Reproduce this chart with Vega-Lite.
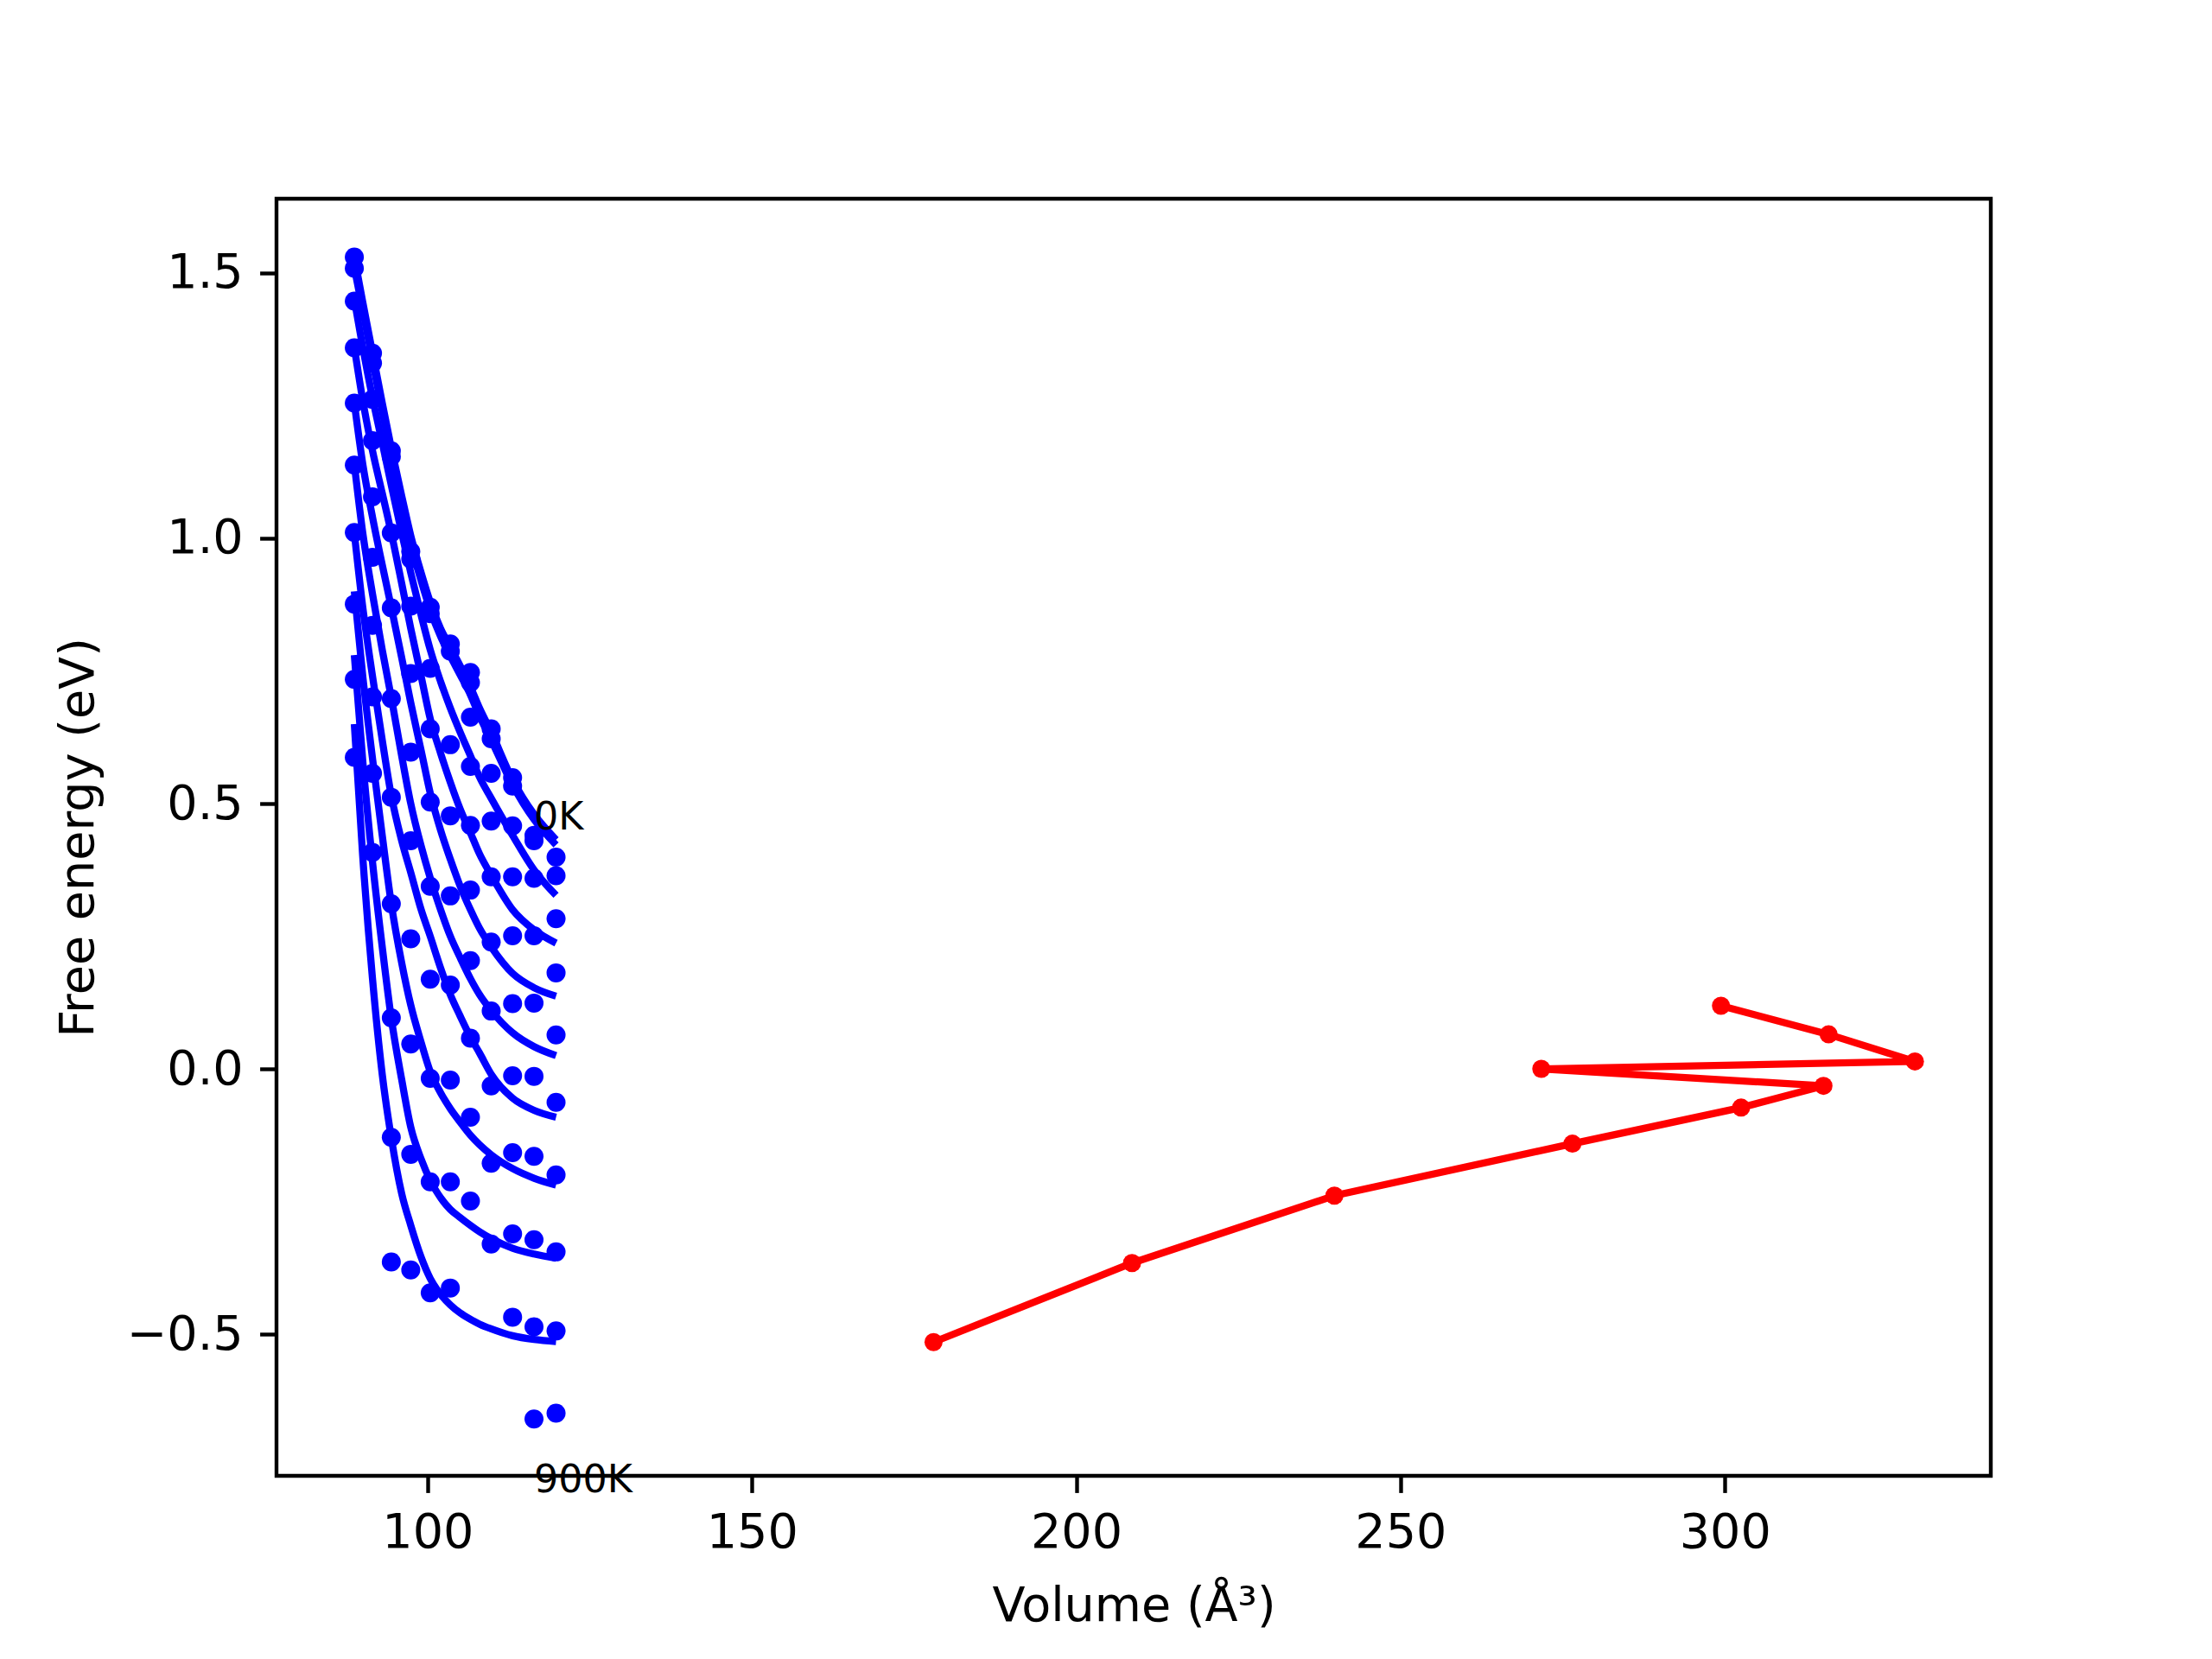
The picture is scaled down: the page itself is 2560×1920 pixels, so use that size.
{
 "$schema": "https://vega.github.io/schema/vega-lite/v6.json",
 "width": 1984, "height": 1478,
 "autosize": {"type": "none"},
 "padding": {"left": 320, "top": 230, "right": 256, "bottom": 212},
 "background": "white",
 "config": {
  "view": {"stroke": "black", "strokeWidth": 4.4},
  "font": "DejaVu Sans",
  "axis": {"grid": false, "domain": false, "tickColor": "black", "tickWidth": 4.4, "tickSize": 19.4,
   "labelFont": "DejaVu Sans", "labelFontSize": 55.6, "labelColor": "black", "labelPadding": 19.4,
   "titleFont": "DejaVu Sans", "titleFontSize": 55.6, "titleFontWeight": "normal", "titleColor": "black"}
 },
 "datasets": {
  "dots": [
   {"V":88.7,"F":1.530,"T":0},{"V":88.7,"F":1.509,"T":100},{"V":88.7,"F":1.447,"T":200},{"V":88.7,"F":1.359,"T":300},{"V":88.7,"F":1.255,"T":400},{"V":88.7,"F":1.138,"T":500},{"V":88.7,"F":1.011,"T":600},{"V":88.7,"F":0.876,"T":700},{"V":88.7,"F":0.734,"T":800},{"V":88.7,"F":0.587,"T":900},
   {"V":91.5,"F":1.349,"T":0},{"V":91.5,"F":1.330,"T":100},{"V":91.5,"F":1.262,"T":200},{"V":91.5,"F":1.184,"T":300},{"V":91.5,"F":1.078,"T":400},{"V":91.5,"F":0.964,"T":500},{"V":91.5,"F":0.836,"T":600},{"V":91.5,"F":0.701,"T":700},{"V":91.5,"F":0.557,"T":800},{"V":91.5,"F":0.408,"T":900},
   {"V":94.4,"F":1.165,"T":0},{"V":94.4,"F":1.154,"T":100},{"V":94.4,"F":1.010,"T":200},{"V":94.4,"F":0.869,"T":300},{"V":94.4,"F":0.698,"T":400},{"V":94.4,"F":0.512,"T":500},{"V":94.4,"F":0.311,"T":600},{"V":94.4,"F":0.096,"T":700},{"V":94.4,"F":-0.129,"T":800},{"V":94.4,"F":-0.364,"T":900},
   {"V":97.4,"F":0.975,"T":0},{"V":97.4,"F":0.961,"T":100},{"V":97.4,"F":0.872,"T":200},{"V":97.4,"F":0.745,"T":300},{"V":97.4,"F":0.597,"T":400},{"V":97.4,"F":0.430,"T":500},{"V":97.4,"F":0.245,"T":600},{"V":97.4,"F":0.047,"T":700},{"V":97.4,"F":-0.161,"T":800},{"V":97.4,"F":-0.379,"T":900},
   {"V":100.4,"F":0.870,"T":0},{"V":100.4,"F":0.858,"T":100},{"V":100.4,"F":0.755,"T":200},{"V":100.4,"F":0.641,"T":300},{"V":100.4,"F":0.503,"T":400},{"V":100.4,"F":0.344,"T":500},{"V":100.4,"F":0.169,"T":600},{"V":100.4,"F":-0.018,"T":700},{"V":100.4,"F":-0.213,"T":800},{"V":100.4,"F":-0.422,"T":900},
   {"V":103.5,"F":0.801,"T":0},{"V":103.5,"F":0.787,"T":100},{"V":103.5,"F":0.611,"T":300},{"V":103.5,"F":0.477,"T":400},{"V":103.5,"F":0.326,"T":500},{"V":103.5,"F":0.158,"T":600},{"V":103.5,"F":-0.021,"T":700},{"V":103.5,"F":-0.213,"T":800},{"V":103.5,"F":-0.413,"T":900},
   {"V":106.6,"F":0.747,"T":0},{"V":106.6,"F":0.728,"T":100},{"V":106.6,"F":0.663,"T":200},{"V":106.6,"F":0.570,"T":300},{"V":106.6,"F":0.459,"T":400},{"V":106.6,"F":0.337,"T":500},{"V":106.6,"F":0.204,"T":600},{"V":106.6,"F":0.058,"T":700},{"V":106.6,"F":-0.091,"T":800},{"V":106.6,"F":-0.249,"T":900},
   {"V":109.8,"F":0.641,"T":0},{"V":109.8,"F":0.622,"T":100},{"V":109.8,"F":0.557,"T":200},{"V":109.8,"F":0.467,"T":300},{"V":109.8,"F":0.362,"T":400},{"V":109.8,"F":0.239,"T":500},{"V":109.8,"F":0.109,"T":600},{"V":109.8,"F":-0.032,"T":700},{"V":109.8,"F":-0.178,"T":800},{"V":109.8,"F":-0.330,"T":900},
   {"V":113.1,"F":0.549,"T":0},{"V":113.1,"F":0.533,"T":100},{"V":113.1,"F":0.458,"T":200},{"V":113.1,"F":0.362,"T":300},{"V":113.1,"F":0.251,"T":400},{"V":113.1,"F":0.123,"T":500},{"V":113.1,"F":-0.013,"T":600},{"V":113.1,"F":-0.158,"T":700},{"V":113.1,"F":-0.311,"T":800},{"V":113.1,"F":-0.468,"T":900},
   {"V":116.4,"F":0.440,"T":0},{"V":116.4,"F":0.430,"T":100},{"V":116.4,"F":0.359,"T":200},{"V":116.4,"F":0.251,"T":300},{"V":116.4,"F":0.124,"T":400},{"V":116.4,"F":-0.014,"T":500},{"V":116.4,"F":-0.165,"T":600},{"V":116.4,"F":-0.322,"T":700},{"V":116.4,"F":-0.486,"T":800},{"V":116.4,"F":-0.660,"T":900},
   {"V":119.8,"F":0.399,"T":0},{"V":119.8,"F":0.364,"T":100},{"V":119.8,"F":0.283,"T":200},{"V":119.8,"F":0.181,"T":300},{"V":119.8,"F":0.064,"T":400},{"V":119.8,"F":-0.063,"T":500},{"V":119.8,"F":-0.200,"T":600},{"V":119.8,"F":-0.345,"T":700},{"V":119.8,"F":-0.494,"T":800},{"V":119.8,"F":-0.649,"T":900}
  ],
  "fits": [
   {"T":0,"V":88.7,"F":1.53},{"T":0,"V":90,"F":1.445},{"T":0,"V":91.5,"F":1.35},{"T":0,"V":93,"F":1.255},{"T":0,"V":94.4,"F":1.17},{"T":0,"V":96,"F":1.08},{"T":0,"V":97.4,"F":1.005},{"T":0,"V":99,"F":0.935},{"T":0,"V":100.4,"F":0.88},{"T":0,"V":102,"F":0.83},{"T":0,"V":103.5,"F":0.795},{"T":0,"V":105,"F":0.76},{"T":0,"V":106.6,"F":0.72},{"T":0,"V":108,"F":0.68},{"T":0,"V":109.8,"F":0.635},{"T":0,"V":113.1,"F":0.545},{"T":0,"V":116.4,"F":0.48},{"T":0,"V":119.8,"F":0.432},
   {"T":100,"V":88.7,"F":1.51},{"T":100,"V":90,"F":1.43},{"T":100,"V":91.5,"F":1.335},{"T":100,"V":93,"F":1.24},{"T":100,"V":94.4,"F":1.155},{"T":100,"V":96,"F":1.065},{"T":100,"V":97.4,"F":0.99},{"T":100,"V":99,"F":0.92},{"T":100,"V":100.4,"F":0.865},{"T":100,"V":102,"F":0.815},{"T":100,"V":103.5,"F":0.778},{"T":100,"V":105,"F":0.743},{"T":100,"V":106.6,"F":0.705},{"T":100,"V":108,"F":0.665},{"T":100,"V":109.8,"F":0.62},{"T":100,"V":113.1,"F":0.535},{"T":100,"V":116.4,"F":0.47},{"T":100,"V":119.8,"F":0.422},
   {"T":200,"V":88.7,"F":1.45},{"T":200,"V":90,"F":1.36},{"T":200,"V":91.5,"F":1.265},{"T":200,"V":93,"F":1.18},{"T":200,"V":94.4,"F":1.10},{"T":200,"V":96,"F":1.01},{"T":200,"V":97.4,"F":0.935},{"T":200,"V":99,"F":0.855},{"T":200,"V":100.4,"F":0.79},{"T":200,"V":102,"F":0.73},{"T":200,"V":103.5,"F":0.68},{"T":200,"V":105,"F":0.635},{"T":200,"V":106.6,"F":0.59},{"T":200,"V":108,"F":0.55},{"T":200,"V":109.8,"F":0.51},{"T":200,"V":113.1,"F":0.44},{"T":200,"V":116.4,"F":0.375},{"T":200,"V":119.8,"F":0.327},
   {"T":300,"V":88.7,"F":1.36},{"T":300,"V":90,"F":1.26},{"T":300,"V":91.5,"F":1.165},{"T":300,"V":93,"F":1.085},{"T":300,"V":94.4,"F":1.01},{"T":300,"V":96,"F":0.915},{"T":300,"V":97.4,"F":0.83},{"T":300,"V":99,"F":0.74},{"T":300,"V":100.4,"F":0.66},{"T":300,"V":102,"F":0.595},{"T":300,"V":103.5,"F":0.54},{"T":300,"V":105,"F":0.49},{"T":300,"V":106.6,"F":0.445},{"T":300,"V":108,"F":0.405},{"T":300,"V":109.8,"F":0.365},{"T":300,"V":113.1,"F":0.30},{"T":300,"V":116.4,"F":0.262},{"T":300,"V":119.8,"F":0.237},
   {"T":400,"V":88.7,"F":1.255},{"T":400,"V":90,"F":1.14},{"T":400,"V":91.5,"F":1.04},{"T":400,"V":93,"F":0.95},{"T":400,"V":94.4,"F":0.87},{"T":400,"V":96,"F":0.775},{"T":400,"V":97.4,"F":0.69},{"T":400,"V":99,"F":0.60},{"T":400,"V":100.4,"F":0.52},{"T":400,"V":102,"F":0.45},{"T":400,"V":103.5,"F":0.395},{"T":400,"V":105,"F":0.345},{"T":400,"V":106.6,"F":0.30},{"T":400,"V":108,"F":0.265},{"T":400,"V":109.8,"F":0.23},{"T":400,"V":113.1,"F":0.18},{"T":400,"V":116.4,"F":0.153},{"T":400,"V":119.8,"F":0.137},
   {"T":500,"V":88.7,"F":1.14},{"T":500,"V":90,"F":1.01},{"T":500,"V":91.5,"F":0.895},{"T":500,"V":93,"F":0.79},{"T":500,"V":94.4,"F":0.70},{"T":500,"V":96,"F":0.59},{"T":500,"V":97.4,"F":0.50},{"T":500,"V":99,"F":0.42},{"T":500,"V":100.4,"F":0.36},{"T":500,"V":102,"F":0.30},{"T":500,"V":103.5,"F":0.25},{"T":500,"V":105,"F":0.21},{"T":500,"V":106.6,"F":0.17},{"T":500,"V":108,"F":0.14},{"T":500,"V":109.8,"F":0.11},{"T":500,"V":113.1,"F":0.068},{"T":500,"V":116.4,"F":0.042},{"T":500,"V":119.8,"F":0.025},
   {"T":600,"V":88.7,"F":1.01},{"T":600,"V":90,"F":0.87},{"T":600,"V":91.5,"F":0.74},{"T":600,"V":93,"F":0.62},{"T":600,"V":94.4,"F":0.515},{"T":600,"V":96,"F":0.43},{"T":600,"V":97.4,"F":0.37},{"T":600,"V":99,"F":0.30},{"T":600,"V":100.4,"F":0.25},{"T":600,"V":102,"F":0.19},{"T":600,"V":103.5,"F":0.14},{"T":600,"V":105,"F":0.10},{"T":600,"V":106.6,"F":0.06},{"T":600,"V":108,"F":0.03},{"T":600,"V":109.8,"F":-0.01},{"T":600,"V":113.1,"F":-0.055},{"T":600,"V":116.4,"F":-0.078},{"T":600,"V":119.8,"F":-0.091},
   {"T":700,"V":88.7,"F":0.90},{"T":700,"V":90,"F":0.74},{"T":700,"V":91.5,"F":0.585},{"T":700,"V":93,"F":0.44},{"T":700,"V":94.4,"F":0.311},{"T":700,"V":96,"F":0.20},{"T":700,"V":97.4,"F":0.12},{"T":700,"V":99,"F":0.05},{"T":700,"V":100.4,"F":-0.005},{"T":700,"V":102,"F":-0.045},{"T":700,"V":103.5,"F":-0.075},{"T":700,"V":105,"F":-0.10},{"T":700,"V":106.6,"F":-0.125},{"T":700,"V":108,"F":-0.143},{"T":700,"V":109.8,"F":-0.162},{"T":700,"V":113.1,"F":-0.188},{"T":700,"V":116.4,"F":-0.206},{"T":700,"V":119.8,"F":-0.219},
   {"T":800,"V":88.7,"F":0.78},{"T":800,"V":90,"F":0.58},{"T":800,"V":91.5,"F":0.39},{"T":800,"V":93,"F":0.23},{"T":800,"V":94.4,"F":0.095},{"T":800,"V":96,"F":-0.02},{"T":800,"V":97.4,"F":-0.11},{"T":800,"V":99,"F":-0.17},{"T":800,"V":100.4,"F":-0.21},{"T":800,"V":102,"F":-0.243},{"T":800,"V":103.5,"F":-0.265},{"T":800,"V":105,"F":-0.28},{"T":800,"V":106.6,"F":-0.295},{"T":800,"V":108,"F":-0.307},{"T":800,"V":109.8,"F":-0.32},{"T":800,"V":113.1,"F":-0.338},{"T":800,"V":116.4,"F":-0.349},{"T":800,"V":119.8,"F":-0.357},
   {"T":900,"V":88.7,"F":0.65},{"T":900,"V":90,"F":0.40},{"T":900,"V":91.5,"F":0.17},{"T":900,"V":93,"F":-0.01},{"T":900,"V":94.4,"F":-0.13},{"T":900,"V":96,"F":-0.235},{"T":900,"V":97.4,"F":-0.295},{"T":900,"V":99,"F":-0.355},{"T":900,"V":100.4,"F":-0.395},{"T":900,"V":102,"F":-0.425},{"T":900,"V":103.5,"F":-0.445},{"T":900,"V":105,"F":-0.46},{"T":900,"V":106.6,"F":-0.472},{"T":900,"V":108,"F":-0.481},{"T":900,"V":109.8,"F":-0.49},{"T":900,"V":113.1,"F":-0.503},{"T":900,"V":116.4,"F":-0.51},{"T":900,"V":119.8,"F":-0.514}
  ],
  "red": [
   {"i":1,"V":178.0,"F":-0.515},{"i":2,"V":208.6,"F":-0.366},{"i":3,"V":239.8,"F":-0.239},{"i":4,"V":276.5,"F":-0.141},{"i":5,"V":302.5,"F":-0.073},{"i":6,"V":315.2,"F":-0.032},{"i":7,"V":271.7,"F":0.000},{"i":8,"V":329.3,"F":0.014},{"i":9,"V":316.0,"F":0.065},{"i":10,"V":299.4,"F":0.119}
  ],
  "labels": [
   {"V":116.4,"F":0.451,"text":"0K"},{"V":116.4,"F":-0.798,"text":"900K"}
  ]
 },
 "layer": [
  {
   "data": {"name": "fits"},
   "mark": {"type": "line", "color": "#0000ff", "strokeWidth": 8.3, "interpolate": "monotone", "clip": true},
   "encoding": {
    "x": {"field": "V", "type": "quantitative", "scale": {"domain": [76.7, 341.0], "nice": false, "zero": false},
     "axis": {"values": [100, 150, 200, 250, 300], "title": "Volume (Å³)", "titleBaseline": "alphabetic", "titleY": 167}},
    "y": {"field": "F", "type": "quantitative", "scale": {"domain": [-0.767, 1.640], "nice": false, "zero": false},
     "axis": {"values": [-0.5, 0, 0.5, 1, 1.5], "format": ".1f", "title": "Free energy (eV)", "titleBaseline": "alphabetic", "titleX": -213}},
    "detail": {"field": "T", "type": "nominal"}
   }
  },
  {
   "data": {"name": "dots"},
   "mark": {"type": "point", "shape": "circle", "filled": true, "color": "#0000ff", "size": 484, "opacity": 1, "strokeWidth": 0},
   "encoding": {
    "x": {"field": "V", "type": "quantitative"},
    "y": {"field": "F", "type": "quantitative"}
   }
  },
  {
   "data": {"name": "red"},
   "mark": {"type": "line", "color": "#ff0000", "strokeWidth": 8.3},
   "encoding": {
    "x": {"field": "V", "type": "quantitative"},
    "y": {"field": "F", "type": "quantitative"},
    "order": {"field": "i", "type": "quantitative"}
   }
  },
  {
   "data": {"name": "red"},
   "mark": {"type": "point", "shape": "circle", "filled": true, "color": "#ff0000", "size": 441, "opacity": 1, "strokeWidth": 0},
   "encoding": {
    "x": {"field": "V", "type": "quantitative"},
    "y": {"field": "F", "type": "quantitative"}
   }
  },
  {
   "data": {"name": "labels"},
   "mark": {"type": "text", "align": "left", "baseline": "alphabetic", "fontSize": 44.4, "font": "DejaVu Sans", "color": "black", "clip": false},
   "encoding": {
    "x": {"field": "V", "type": "quantitative"},
    "y": {"field": "F", "type": "quantitative"},
    "text": {"field": "text"}
   }
  }
 ]
}
